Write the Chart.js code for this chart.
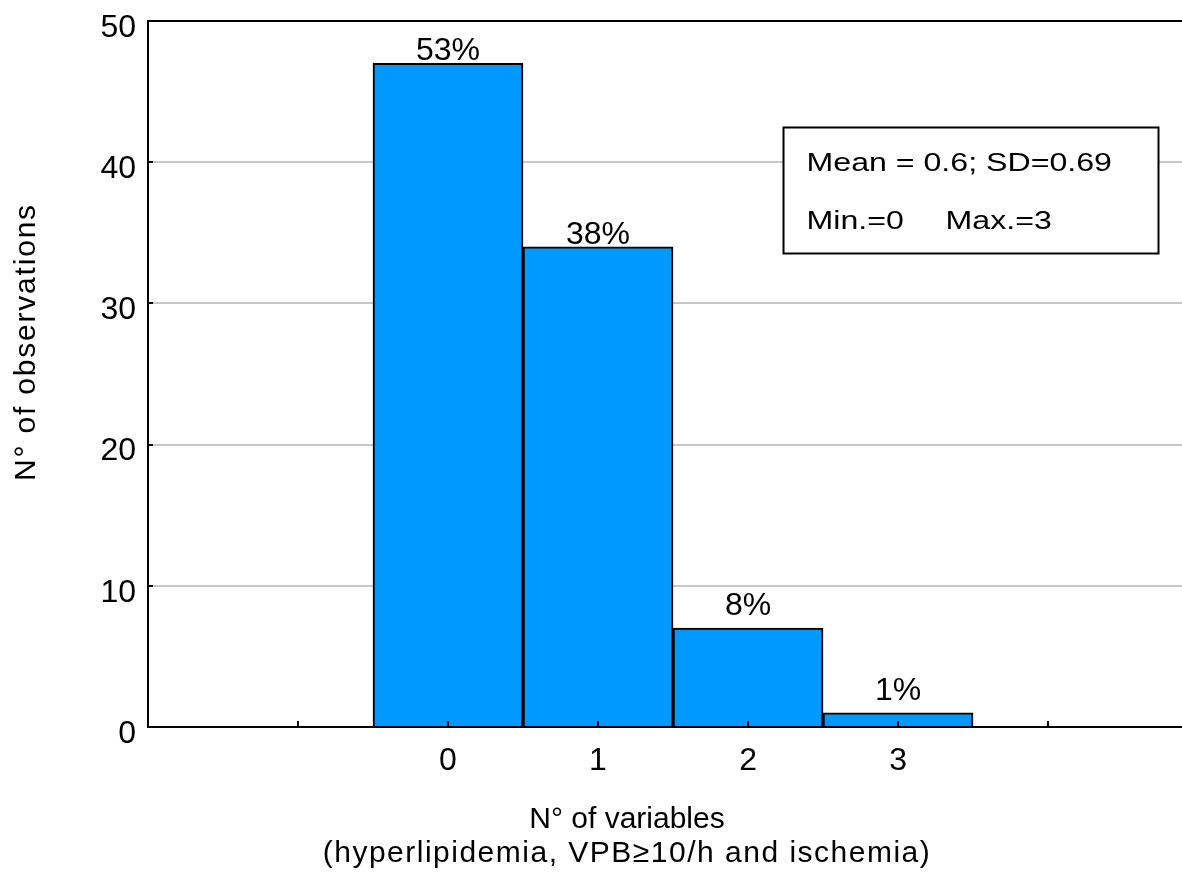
<!DOCTYPE html>
<html>
<head>
<meta charset="utf-8">
<script src="https://cdn.jsdelivr.net/npm/chart.js@4"></script>
<style>
  body { margin: 0; background: #fff; }
  #wrap { width: 1182px; height: 882px; }
</style>
</head>
<body>
<div id="wrap"><canvas id="histChart"></canvas></div>
<script>
// Données
const categories = [0, 1, 2, 3];
const observations = [47, 34, 7, 1];
const percentLabels = ["53%", "38%", "8%", "1%"];
const yTicks = [0, 10, 20, 30, 40, 50];
const xTickMarks = [-1, 0, 1, 2, 3, 4];
const statsText = ["Mean = 0.6; SD=0.69", "Min.=0", "Max.=3"];

const FONT = "'Liberation Sans', Arial, sans-serif";

// Habillage : traits de graduation intérieurs, cadre, étiquettes, boîte de stats
const decorPlugin = {
  id: "decor",
  afterDatasetsDraw(chart) {
    const { ctx, chartArea, scales } = chart;
    const x = scales.x, y = scales.y;
    ctx.save();

    // ligne du haut
    ctx.strokeStyle = "#000";
    ctx.lineWidth = 2;
    ctx.beginPath();
    ctx.moveTo(chartArea.left - 1, chartArea.top);
    ctx.lineTo(chartArea.right, chartArea.top);
    ctx.stroke();

    // graduations vers l'intérieur
    xTickMarks.forEach(v => {
      const px = Math.round(x.getPixelForValue(v));
      ctx.beginPath();
      ctx.moveTo(px, chartArea.bottom);
      ctx.lineTo(px, chartArea.bottom - 6);
      ctx.stroke();
    });
    yTicks.forEach(v => {
      const py = Math.round(y.getPixelForValue(v));
      ctx.beginPath();
      ctx.moveTo(chartArea.left, py);
      ctx.lineTo(chartArea.left + 5, py);
      ctx.stroke();
    });

    // pourcentages au-dessus des barres
    ctx.fillStyle = "#000";
    ctx.font = "32px " + FONT;
    ctx.textAlign = "center";
    ctx.textBaseline = "alphabetic";
    const meta = chart.getDatasetMeta(0);
    meta.data.forEach((bar, i) => {
      const off = observations[i] > 20 ? 3 : 13;
      ctx.fillText(percentLabels[i], bar.x, bar.y - off);
    });

    // boîte des statistiques
    const bx = Math.round(x.getPixelForValue(2.23)) + 0.5;
    const by = Math.round(y.getPixelForValue(42.5)) + 0.5;
    const bw = 375, bh = 126;
    ctx.fillStyle = "#fff";
    ctx.fillRect(bx, by, bw, bh);
    ctx.strokeStyle = "#000";
    ctx.lineWidth = 2;
    ctx.strokeRect(bx, by, bw, bh);
    ctx.fillStyle = "#000";
    ctx.font = "25.5px " + FONT;
    ctx.textAlign = "left";
    const drawWide = (txt, tx, ty) => {
      ctx.save();
      ctx.translate(tx, ty);
      ctx.scale(1.26, 1);
      ctx.fillText(txt, 0, 0);
      ctx.restore();
    };
    drawWide(statsText[0], bx + 23, by + 43);
    drawWide(statsText[1], bx + 23, by + 101);
    drawWide(statsText[2], bx + 162, by + 101);

    // titres des axes
    ctx.font = "30px " + FONT;
    ctx.textAlign = "center";
    ctx.fillText("N° of variables", 627, 828);
    ctx.letterSpacing = "1.5px";
    ctx.fillText("(hyperlipidemia, VPB\u226510/h and ischemia)", 627, 862);

    ctx.letterSpacing = "1.8px";
    ctx.translate(35, 342);
    ctx.rotate(-Math.PI / 2);
    ctx.fillText("N° of observations", 0, 0);

    ctx.restore();
  }
};

const dataHist = {
  datasets: [
    {
      label: "N° of observations",
      data: categories.map((c, i) => ({ x: c, y: observations[i] })),
      backgroundColor: "rgb(0, 153, 255)",
      borderColor: "#000",
      borderWidth: 2,
      borderSkipped: "bottom",
      categoryPercentage: 1,
      barPercentage: 1,
    },
  ],
};

const configHist = {
  type: "bar",
  data: dataHist,
  plugins: [decorPlugin],
  options: {
    responsive: true,
    maintainAspectRatio: false,
    animation: false,
    layout: { padding: { top: 21, left: 0, right: 0, bottom: 0 } },
    plugins: {
      legend: { display: false },
      tooltip: { enabled: false },
    },
    scales: {
      x: {
        type: "linear",
        offset: false,
        min: -2,
        max: 4.893,
        grid: { display: false, drawTicks: false, offset: false },
        border: { display: true, color: "#000", width: 2 },
        ticks: {
          stepSize: 1,
          padding: 15,
          color: "#000",
          font: { family: FONT, size: 32 },
          callback: v => (categories.includes(v) ? String(v) : ""),
        },
        afterBuildTicks: s => {
          s.ticks = s.ticks.filter(t => Number.isInteger(t.value));
        },
        afterFit: s => {
          s.height = 155;
          s.paddingLeft = 0;
          s.paddingRight = 0;
        },
      },
      y: {
        min: 0,
        max: 50,
        grid: { color: "#c8c8c8", lineWidth: 2, drawTicks: false },
        border: { display: true, color: "#000", width: 2 },
        ticks: {
          stepSize: 10,
          padding: 12,
          labelOffset: 7,
          color: "#000",
          font: { family: FONT, size: 32 },
        },
        afterFit: s => {
          s.width = 148;
          s.paddingTop = 0;
          s.paddingBottom = 0;
        },
      },
    },
  },
};

window.addEventListener("DOMContentLoaded", () => {
  const ctx = document.getElementById("histChart").getContext("2d");
  new Chart(ctx, configHist);
});
</script>
</body>
</html>
